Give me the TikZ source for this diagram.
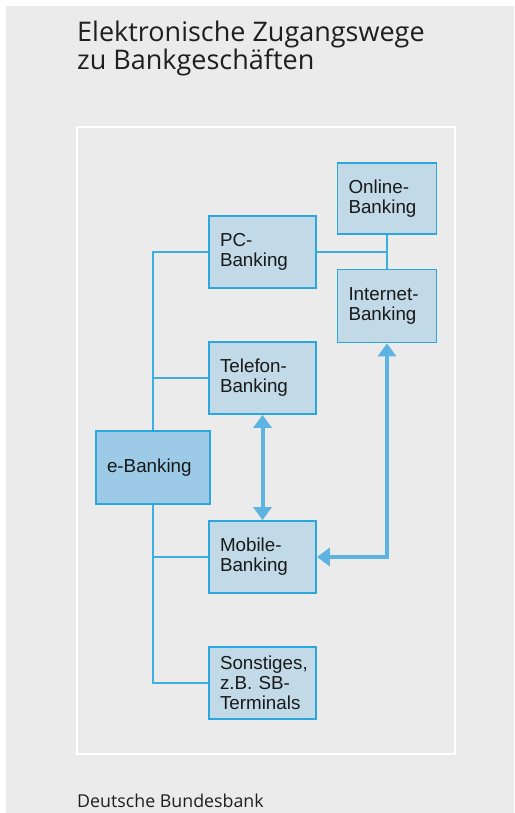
\documentclass[tikz,border=0pt]{standalone}
\usepackage{fontspec}
\usetikzlibrary{arrows.meta}
\newfontfamily\titlefam{Open Sans}
\newfontfamily\boxfam{Liberation Sans}
\definecolor{bggray}{HTML}{EBEBEB}
\definecolor{bborder}{HTML}{2BA6DE}
\definecolor{bfill}{HTML}{C2D9E8}
\definecolor{efill}{HTML}{9DCAE6}
\definecolor{lineblue}{HTML}{3AAFE0}
\definecolor{arrblue}{HTML}{5DB3E1}
\begin{document}
\begin{tikzpicture}[x=1pt,y=-1pt,
  boxnode/.style={draw=bborder, fill=bfill, line width=1.8pt, inner xsep=11pt, inner ysep=0pt,
    align=left, anchor=center, font=\boxfam\fontsize{18.8}{20}\selectfont, text=black!90},
  wide/.style={minimum width=107pt, text width=85pt, minimum height=72pt},
  narrow/.style={minimum width=99pt, text width=77pt, minimum height=72pt},
  conn/.style={draw=lineblue, line width=1.4pt},
  arr/.style={draw=arrblue, line width=4pt, {Triangle[width=18pt,length=13pt]}-{Triangle[width=18pt,length=13pt]}},
  titletext/.style={anchor=base west, inner sep=0pt, font=\titlefam\fontsize{27}{28}\selectfont, text=black!88},
  foottext/.style={anchor=base west, inner sep=0pt, font=\titlefam\fontsize{17.8}{18}\selectfont, text=black!88}
]
\useasboundingbox (0,0) rectangle (514,813);
\fill[white] (0,0) rectangle (514,813);
\fill[bggray] (6,6) rectangle (514,813);
\draw[white, line width=2.5pt] (77,127) rectangle (455,754);

\node[titletext] (t1) at (77,42) {Elektronische Zugangswege};
\node[titletext] (t2) at (77,70) {zu Bankgeschäften};
\node[foottext] (ft) at (77,807) {Deutsche Bundesbank};

\node[boxnode, narrow, minimum height=71pt] (on) at (387,198.5) {Online-\\Banking};
\node[boxnode, narrow, minimum height=73pt] (in) at (387,306) {Internet-\\Banking};
\node[boxnode, wide] (pc) at (262.5,252) {PC-\\Banking};
\node[boxnode, wide] (tel) at (262.5,378) {Telefon-\\Banking};
\node[boxnode, fill=efill, minimum width=114pt, text width=92pt, minimum height=73pt] (eb) at (153,467.5) {e-Banking};
\node[boxnode, wide] (mob) at (262.5,557) {Mobile-\\Banking};
\node[boxnode, wide] (son) at (262.5,683) {Sonstiges,\\z.B. SB-\\Terminals};

\draw[conn] (eb.north) |- (pc.west);
\draw[conn] (eb.north |- tel.west) -- (tel.west);
\draw[conn] (eb.south) |- (son.west);
\draw[conn] (eb.south |- mob.west) -- (mob.west);
\draw[conn] (pc.east) -- (pc.east -| on.south);
\draw[conn] (on.south) -- (in.north);

\draw[arr] (tel.south) -- (mob.north);
\draw[arr] (mob.east) -| (in.south);
\end{tikzpicture}
\end{document}
